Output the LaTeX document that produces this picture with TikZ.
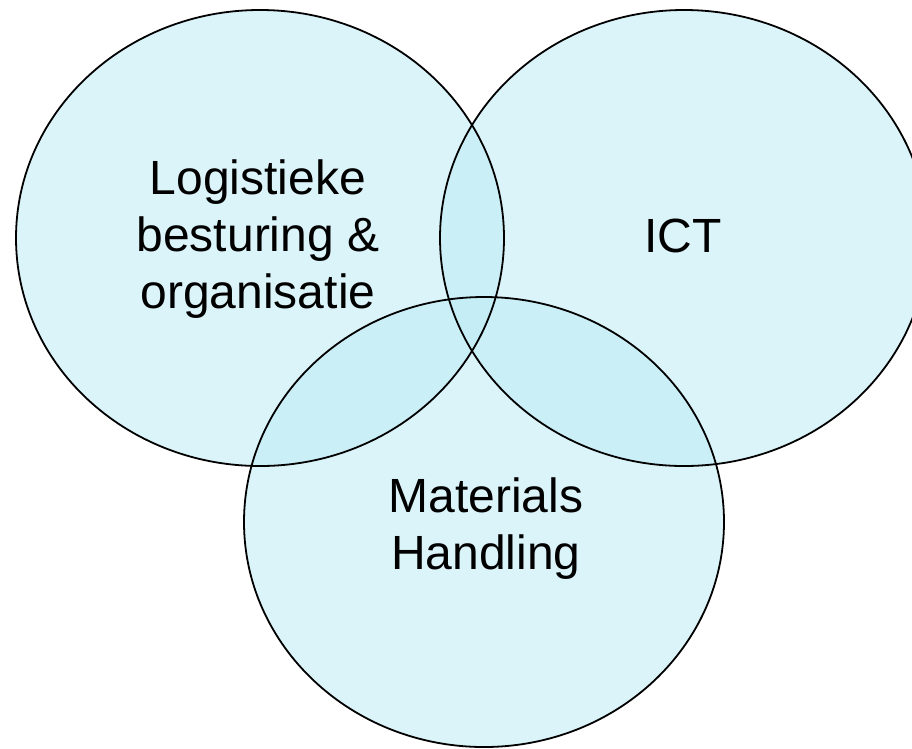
\documentclass[tikz,border=0pt]{standalone}
\usepackage{fontspec}
\setmainfont{Liberation Sans}
\begin{document}
\begin{tikzpicture}[x=1pt,y=-1pt,
  setfill/.style={fill={rgb,255:red,190;green,235;blue,245},fill opacity=0.55},
  setline/.style={draw=black,line width=1.8pt},
  lbl/.style={font=\fontsize{48}{57}\selectfont,align=center,inner sep=0pt,text=black}]
\useasboundingbox (0,0) rectangle (912,748);
\path[setfill] (260,238) ellipse [x radius=244, y radius=228];
\path[setfill] (684,238) ellipse [x radius=244, y radius=228];
\path[setfill] (484,522) ellipse [x radius=240, y radius=225];
\draw[setline] (260,238) ellipse [x radius=244, y radius=228];
\draw[setline] (684,238) ellipse [x radius=244, y radius=228];
\draw[setline] (484,522) ellipse [x radius=240, y radius=225];
\node[lbl] (log) at (258,239) {Logistieke\\besturing \&\\organisatie};
\node[lbl] (ict) at (683,236) {ICT};
\node[lbl] (mh) at (486,529) {Materials\\Handling};
\end{tikzpicture}
\end{document}
